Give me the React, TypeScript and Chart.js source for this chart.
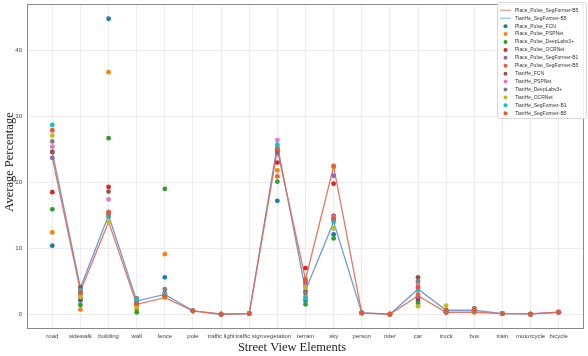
import React, { useEffect, useRef } from "react";
import { Chart, registerables } from "chart.js";
Chart.register(...registerables);

const categories = ["road", "sidewalk", "building", "wall", "fence", "pole", "traffic light", "traffic sign", "vegetation", "terrain", "sky", "person", "rider", "car", "truck", "bus", "train", "motorcycle", "bicycle"];

// line series
const placePulseB5Line = [23.7, 3.5, 14.0, 1.5, 2.5, 0.5, 0.0, 0.1, 24.9, 5.3, 22.4, 0.2, 0.0, 2.8, 0.3, 0.3, 0.1, 0.05, 0.3];
const tianHeB5Line = [24.6, 4.0, 15.0, 2.0, 3.0, 0.5, 0.0, 0.1, 25.7, 3.6, 14.0, 0.2, 0.0, 3.8, 0.6, 0.6, 0.1, 0.05, 0.3];

// scatter series
const ppFCN = [10.4, 2.1, 44.8, 1.6, 5.6, 0.5, 0.0, 0.1, 17.2, 2.1, 12.1, 0.2, 0.0, 2.0, 0.4, 0.5, 0.1, 0.0, 0.3];
const ppPSPNet = [12.4, 0.7, 36.7, 0.8, 9.1, 0.5, 0.0, 0.1, 21.8, 2.7, 22.3, 0.2, 0.0, 1.3, 0.3, 0.4, 0.1, 0.0, 0.3];
const ppDeepLab = [15.9, 1.4, 26.7, 0.3, 19.0, 0.5, 0.0, 0.1, 20.1, 1.5, 11.5, 0.2, 0.0, 1.7, 0.3, 0.4, 0.1, 0.0, 0.3];
const ppOCRNet = [18.5, 2.4, 19.3, 1.3, 3.0, 0.5, 0.0, 0.1, 23.0, 7.0, 19.8, 0.2, 0.0, 2.4, 0.3, 0.4, 0.1, 0.0, 0.3];
const ppB1 = [23.7, 3.8, 15.2, 1.8, 2.8, 0.5, 0.0, 0.1, 24.4, 4.6, 21.0, 0.2, 0.0, 2.7, 0.3, 0.4, 0.1, 0.0, 0.3];
const ppB5 = [24.6, 3.5, 15.5, 1.5, 2.6, 0.5, 0.0, 0.1, 20.9, 5.3, 22.5, 0.2, 0.0, 3.0, 0.3, 0.3, 0.1, 0.0, 0.3];
const thFCN = [24.6, 4.1, 18.6, 2.0, 3.2, 0.5, 0.0, 0.1, 24.8, 3.5, 14.9, 0.2, 0.0, 5.6, 0.6, 0.9, 0.1, 0.0, 0.3];
const thPSPNet = [25.4, 3.4, 17.4, 2.2, 3.1, 0.5, 0.0, 0.1, 26.4, 4.2, 14.7, 0.2, 0.0, 4.6, 0.5, 0.7, 0.1, 0.0, 0.3];
const thDeepLab = [26.2, 3.0, 14.8, 2.4, 3.8, 0.5, 0.0, 0.1, 25.2, 3.2, 14.3, 0.2, 0.0, 5.0, 0.5, 0.8, 0.1, 0.0, 0.3];
const thOCRNet = [27.1, 2.6, 14.0, 1.2, 2.5, 0.5, 0.0, 0.1, 25.5, 4.0, 13.0, 0.2, 0.0, 1.2, 1.3, 0.6, 0.1, 0.0, 0.3];
const thB1 = [28.7, 3.6, 15.0, 2.1, 3.0, 0.5, 0.0, 0.1, 25.7, 2.4, 14.0, 0.2, 0.0, 3.7, 0.6, 0.6, 0.1, 0.0, 0.3];
const thB5 = [27.9, 3.3, 15.3, 1.6, 2.7, 0.5, 0.0, 0.1, 25.0, 5.0, 14.5, 0.2, 0.0, 4.1, 0.6, 0.6, 0.1, 0.0, 0.3];

const lineSeries = [
  { label: "Place_Pulse_SegFormer-B5", values: placePulseB5Line, color: "rgba(228,104,84,0.9)", legendColor: "rgba(224,150,138,0.9)" },
  { label: "TianHe_SegFormer-B5", values: tianHeB5Line, color: "rgba(92,148,206,0.9)", legendColor: "rgba(140,190,222,0.9)" },
];

const scatterSeries = [
  { label: "Place_Pulse_FCN", values: ppFCN, color: "#1f77b4" },
  { label: "Place_Pulse_PSPNet", values: ppPSPNet, color: "#ff7f0e" },
  { label: "Place_Pulse_DeepLabv3+", values: ppDeepLab, color: "#2ca02c" },
  { label: "Place_Pulse_OCRNet", values: ppOCRNet, color: "#d62728" },
  { label: "Place_Pulse_SegFormer-B1", values: ppB1, color: "#9467bd" },
  { label: "Place_Pulse_SegFormer-B5", values: ppB5, color: "#e5603b" },
  { label: "TianHe_FCN", values: thFCN, color: "#8c564b" },
  { label: "TianHe_PSPNet", values: thPSPNet, color: "#e377c2" },
  { label: "TianHe_DeepLabv3+", values: thDeepLab, color: "#7f7f7f" },
  { label: "TianHe_OCRNet", values: thOCRNet, color: "#bcbd22" },
  { label: "TianHe_SegFormer-B1", values: thB1, color: "#17becf" },
  { label: "TianHe_SegFormer-B5", values: thB5, color: "#e8563a" },
];

const W = 588;
const H = 356;

export default function App() {
  const ref = useRef<HTMLCanvasElement | null>(null);
  useEffect(() => {
    document.body.style.margin = "0";
    const canvas = ref.current!;
    const datasets: any[] = [];
    lineSeries.forEach((s) => {
      datasets.push({
        type: "line",
        label: s.label,
        data: s.values.map((v, i) => ({ x: i, y: v })),
        borderColor: s.color,
        backgroundColor: s.color,
        borderWidth: 1.3,
        pointRadius: 0,
        fill: false,
        order: 100,
        tension: 0,
        _legendColor: s.legendColor,
      });
    });
    scatterSeries.forEach((s, k) => {
      datasets.push({
        type: "scatter",
        label: s.label,
        data: s.values.map((v, i) => ({ x: i, y: v })),
        backgroundColor: s.color,
        borderColor: s.color,
        borderWidth: 0,
        pointRadius: 2.4,
        order: 50 - k,
      });
    });

    const framePlugin = {
      id: "frame",
      beforeDatasetsDraw(chart: any) {
        const { ctx, chartArea: a } = chart;
        ctx.save();
        ctx.strokeStyle = "#8a8a8a";
        ctx.lineWidth = 1;
        ctx.strokeRect(Math.round(a.left) + 0.5, Math.round(a.top) + 0.5, Math.round(a.right - a.left) - 1, Math.round(a.bottom - a.top) - 1);
        ctx.restore();
      },
      afterDraw(chart: any) {
        const { ctx } = chart;
        ctx.save();
        // axis titles
        ctx.fillStyle = "#222";
        ctx.font = "12.5px 'Liberation Serif', serif";
        ctx.textAlign = "center";
        ctx.textBaseline = "middle";
        ctx.fillText("Street View Elements", 292, 348);
        ctx.save();
        ctx.translate(10, 162);
        ctx.rotate(-Math.PI / 2);
        ctx.fillText("Average Percentage", 0, 0);
        ctx.restore();

        // legend
        const bx = 497, by = 2, bw = 89, bh = 116;
        ctx.fillStyle = "rgba(255,255,255,0.85)";
        ctx.strokeStyle = "#d8d8d8";
        ctx.lineWidth = 1;
        ctx.beginPath();
        ctx.roundRect(bx + 0.5, by + 0.5, bw, bh, 2);
        ctx.fill();
        ctx.stroke();
        ctx.font = "5px 'Liberation Sans', sans-serif";
        ctx.textAlign = "left";
        ctx.textBaseline = "middle";
        let row = 0;
        const rowY = (r: number) => 10.3 + r * 7.92;
        chart.data.datasets.forEach((ds: any) => {
          const y = rowY(row);
          if (ds.type === "line") {
            ctx.strokeStyle = ds._legendColor;
            ctx.lineWidth = 1.3;
            ctx.beginPath();
            ctx.moveTo(500, y);
            ctx.lineTo(511, y);
            ctx.stroke();
          } else {
            ctx.fillStyle = ds.backgroundColor;
            ctx.beginPath();
            ctx.arc(505.5, y, 2, 0, Math.PI * 2);
            ctx.fill();
          }
          ctx.fillStyle = "#333";
          ctx.fillText(ds.label, 515, y);
          row++;
        });
        ctx.restore();
      },
    };

    const chart = new Chart(canvas, {
      data: { datasets },
      options: {
        responsive: false,
        maintainAspectRatio: false,
        animation: false,
        devicePixelRatio: 1,
        layout: { padding: { top: 3, right: 3, left: 0, bottom: 0 } },
        plugins: { legend: { display: false }, tooltip: { enabled: false } },
        scales: {
          x: {
            type: "linear",
            min: -0.9,
            max: 18.9,
            afterFit: (s: any) => { s.height = 27; s.paddingLeft = 0; s.paddingRight = 0; },
            grid: { color: "#ececec", drawTicks: false, lineWidth: 1 },
            border: { display: false },
            ticks: {
              stepSize: 1,
              includeBounds: false,
              autoSkip: false,
              maxRotation: 0,
              padding: 4,
              color: "#444",
              font: { size: 6, family: "'Liberation Sans', sans-serif" },
              callback: (v: any) => (Number.isInteger(v) && categories[v] !== undefined ? categories[v] : ""),
            },
          },
          y: {
            type: "linear",
            min: -2.24,
            max: 47.04,
            afterFit: (s: any) => { s.width = 27; s.paddingTop = 0; s.paddingBottom = 0; },
            grid: { color: "#ececec", drawTicks: false, lineWidth: 1 },
            border: { display: false },
            ticks: {
              stepSize: 10,
              includeBounds: false,
              padding: 5,
              color: "#444",
              font: { size: 6, family: "'Liberation Sans', sans-serif" },
            },
          },
        },
      },
      plugins: [framePlugin],
    } as any);
    return () => chart.destroy();
  }, []);
  return (
    <div style={{ width: W, height: H, background: "#fff" }}>
      <canvas ref={ref} width={W} height={H} style={{ display: "block" }} />
    </div>
  );
}
